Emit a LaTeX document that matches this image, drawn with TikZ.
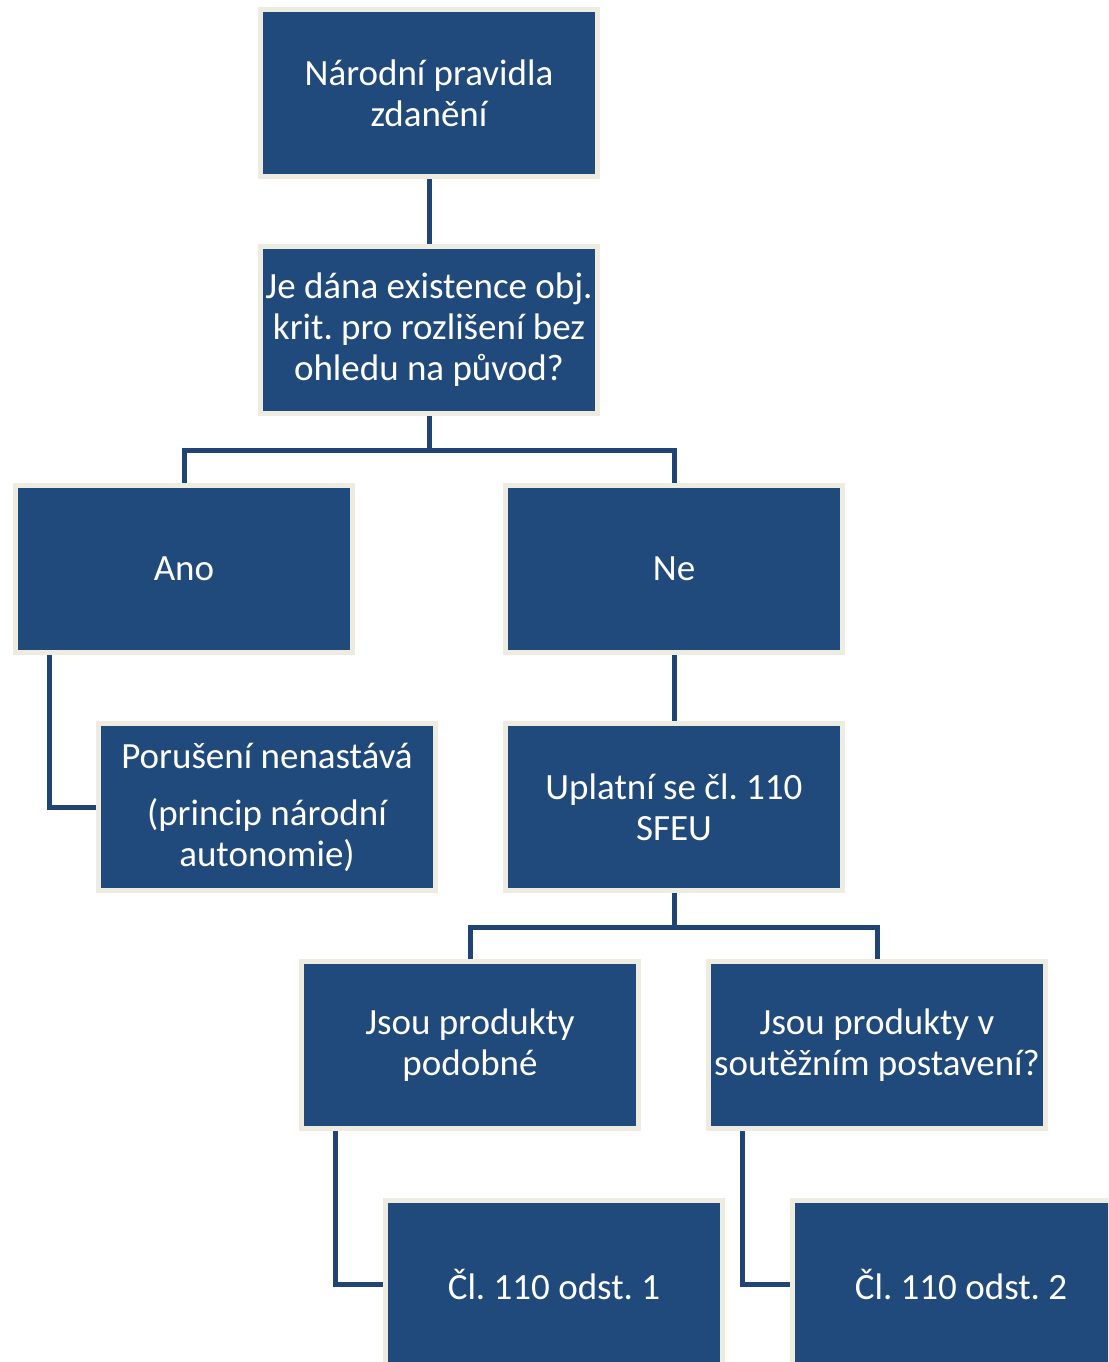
\documentclass[tikz,border=0pt]{standalone}
\usepackage{fontspec}
\setmainfont{Carlito}
\usepackage{tikz}
\definecolor{boxblue}{HTML}{214A7C}
\definecolor{linkblue}{HTML}{1F4475}
\definecolor{rim}{HTML}{EEEBE0}
\tikzset{
    box/.style={draw=rim, line width=5pt, fill=boxblue, text=white,
        minimum width=337pt, minimum height=167pt, align=center,
        inner sep=0pt, font=\fontsize{37}{41}\selectfont\frenchspacing},
    link/.style={draw=linkblue, line width=5pt}
}

\begin{document}
\begin{tikzpicture}[x=1pt,y=-1pt]
		\useasboundingbox (0,0) rectangle (1108,1362);
		\clip (0,0) rectangle (1108,1362);

		% upper part
		\node[box] (rules) at (429,93) {Národní pravidla\\zdanění};
		\node[box] (crit) at (429,330) {Je dána existence obj.\\krit. pro rozlišení bez\\ohledu na původ?};
		\node[box] (yes) at (184,569) {Ano};
		\node[box] (no) at (674,569) {Ne};
		\node[box] (none) at (267,807) {Porušení nenastává\\[16pt](princip národní\\autonomie)};
		\node[box] (art) at (674,807) {Uplatní se čl. 110\\SFEU};
		\draw[link] (rules) -- (crit);
		\draw[link] (crit.south) -- ++(0,34) -| (yes.north);
		\draw[link] (crit.south) -- ++(0,34) -| (no.north);
		\draw[link] ([xshift=36pt]yes.south west) |- (none.west);
		\draw[link] (no) -- (art);

		% lower part
		\node[box] (similar) at (470,1045) {Jsou produkty\\podobné};
		\node[box] (compete) at (877,1045) {Jsou produkty v\\soutěžním postavení?};
		\node[box] (par1) at (554,1284) {Čl. 110 odst. 1};
		\node[box] (par2) at (961,1284) {Čl. 110 odst. 2};
		\draw[link] (art.south) -- ++(0,34) -| (similar.north);
		\draw[link] (art.south) -- ++(0,34) -| (compete.north);
		\draw[link] ([xshift=36pt]similar.south west) |- (par1.west);
		\draw[link] ([xshift=36pt]compete.south west) |- (par2.west);
	\end{tikzpicture}
\end{document}
